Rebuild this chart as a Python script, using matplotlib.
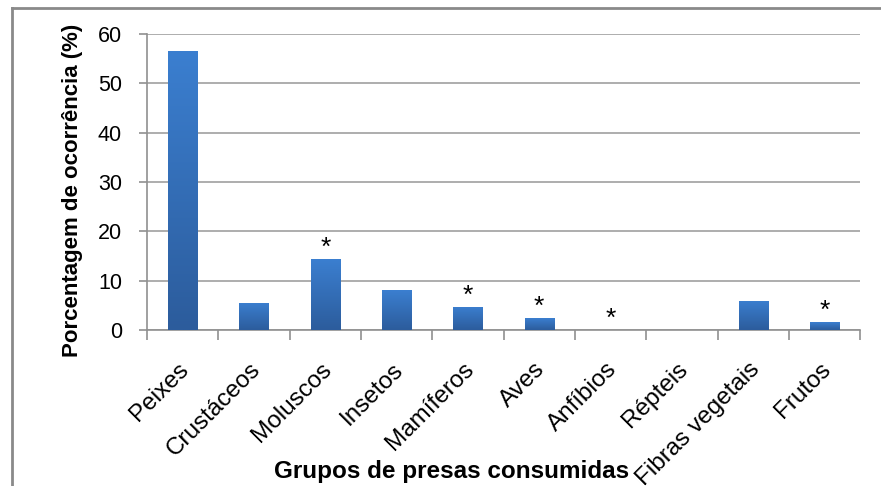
import matplotlib.pyplot as plt
import numpy as np
from matplotlib.lines import Line2D
from matplotlib.colors import LinearSegmentedColormap

plt.rcParams['font.family'] = ['Liberation Sans', 'DejaVu Sans']

# Données
categorias = ['Peixes', 'Crustáceos', 'Moluscos', 'Insetos', 'Mamíferos',
              'Aves', 'Anfíbios', 'Répteis', 'Fibras vegetais', 'Frutos']
porcentagem = [56.6, 5.5, 14.3, 8.1, 4.7, 2.4, 0.0, 0.0, 5.9, 1.6]
asterisco = [False, False, True, False, True, True, True, False, False, True]
y_ticks = [0, 10, 20, 30, 40, 50, 60]

fig = plt.figure(figsize=(8.81, 4.86), dpi=100)
ax = fig.add_axes([0.1669, 0.321, 0.8094, 0.609])

x = np.arange(len(categorias))
bars = ax.bar(x, porcentagem, width=0.41, color='#3470bb', zorder=3)

# dégradé vertical dans chaque barre
grad = np.linspace(0, 1, 256).reshape(-1, 1)
cmap = LinearSegmentedColormap.from_list('g', ['#2c5c9c', '#3b7fd0'])
for b in bars:
    if b.get_height() <= 0:
        continue
    x0, w, h = b.get_x(), b.get_width(), b.get_height()
    im = ax.imshow(grad, extent=[x0, x0 + w, 0, h], origin='lower', aspect='auto',
                   cmap=cmap, zorder=4)
    im.set_clip_path(b)

for xi, v, s in zip(x, porcentagem, asterisco):
    if s:
        ax.annotate('*', (xi, v), xytext=(0, 3), textcoords='offset points',
                    ha='center', va='baseline', fontsize=19, zorder=5)

ax.set_xlim(-0.5, len(categorias) - 0.5)
ax.set_ylim(0, 60)
ax.set_yticks(y_ticks)
ax.yaxis.grid(True, color='#a0a0a0', linewidth=1.2, zorder=0)
ax.set_axisbelow(True)

# étiquettes inclinées placées à la main
ax.set_xticks(x)
ax.set_xticklabels([])
ax.tick_params(axis='x', length=0)
for xi, nome in zip(x, categorias):
    ax.annotate(nome, (xi, 0), xytext=(2, -26), textcoords='offset points',
                rotation=45, ha='right', va='center', rotation_mode='anchor',
                fontsize=17.5, annotation_clip=False)

ax.set_xticks(np.arange(len(categorias) + 1) - 0.5, minor=True)
ax.tick_params(axis='x', which='minor', length=7, color='#909090', width=1.2)
ax.tick_params(axis='y', labelsize=15.5, length=6, color='#909090', width=1.2, pad=12)

for sp in ['top', 'right']:
    ax.spines[sp].set_visible(False)
for sp in ['left', 'bottom']:
    ax.spines[sp].set_color('#909090')
    ax.spines[sp].set_linewidth(1.2)

fig.text(0.082, 0.609, 'Porcentagem de ocorrência (%)', rotation=90, ha='center',
         va='center', fontsize=16, fontweight='bold')
fig.text(0.512, 0.029, 'Grupos de presas consumidas', ha='center', va='center',
         fontsize=17.5, fontweight='bold')

# cadre gris (haut et gauche seulement)
fig.lines.append(Line2D([0.0136, 1.0], [0.9835, 0.9835], transform=fig.transFigure,
                        color='#8a8a8a', linewidth=2))
fig.lines.append(Line2D([0.0136, 0.0136], [0.0, 0.9835], transform=fig.transFigure,
                        color='#8a8a8a', linewidth=2))

plt.savefig('out.png', dpi=100)
